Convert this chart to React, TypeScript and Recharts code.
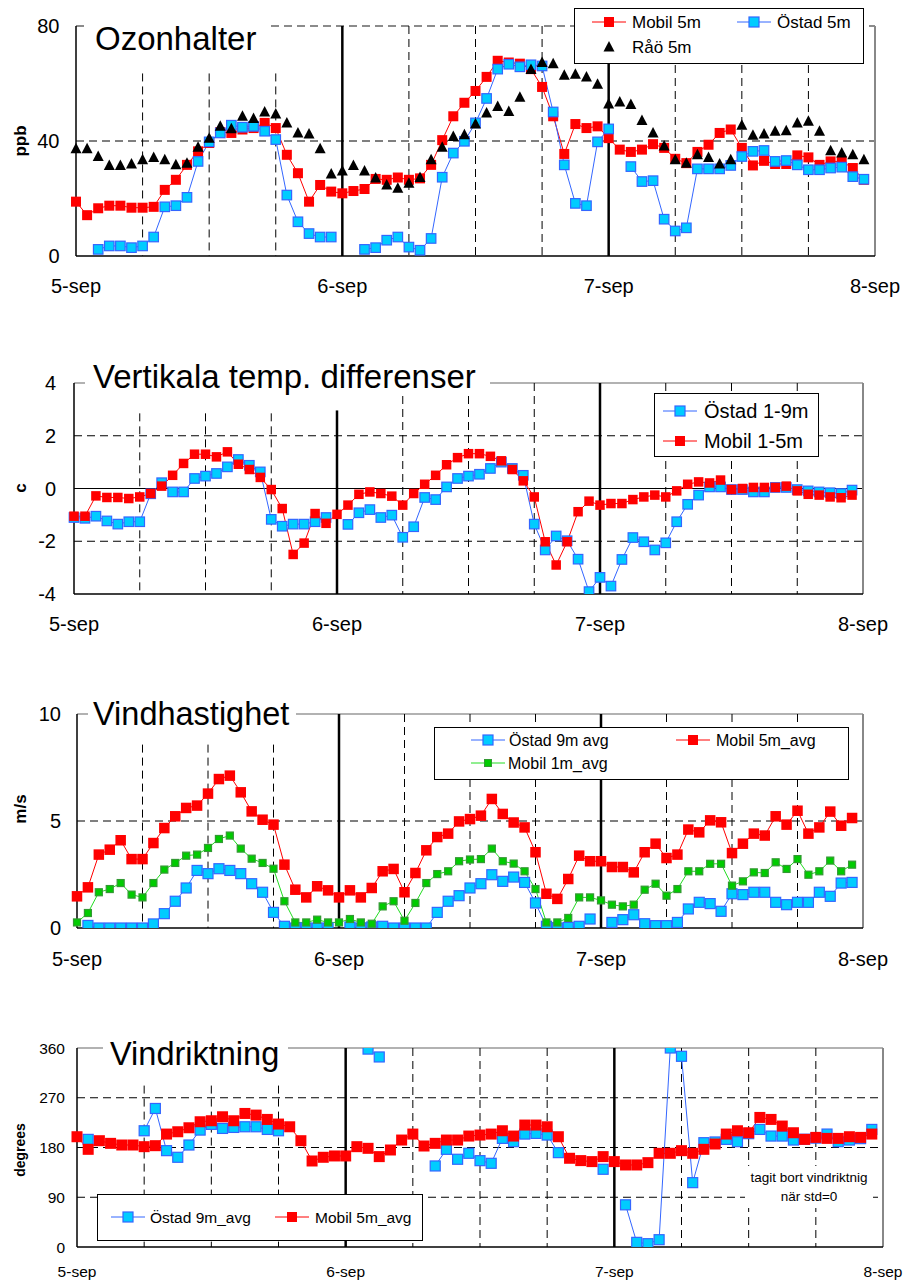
import React from "react";
import { LineChart, Line, XAxis, YAxis, ReferenceLine } from "recharts";

const FONT = "'Liberation Sans', Arial, Helvetica, sans-serif";

type Val = number | null;

// x axis: one point per hour, 3 days
const dayLabels = ["5-sep", "6-sep", "7-sep", "8-sep"];
const dayTicks = [0, 24, 48, 72];
const sixHourLines = [6, 12, 18, 30, 36, 42, 54, 60, 66];
const midnightLines = [24, 48];

// Ozonhalter (ppb)
const ozonMobil5m: Val[] = [
  18.9, 14.2, 16.6, 17.5, 17.5, 16.8, 16.8, 17.1, 23, 26.5,
  31.7, 36.4, 39.3, 43.1, 42.8, 44, 44.5, 46.3, 44.5, 35.2,
  28.8, 18.9, 24.7, 22.4, 21.8, 22.6, 23.3, 26.8, 26.5, 27.3,
  26.5, 27, 31.7, 40.3, 48.6, 53.3, 57.4, 62.3, 67.9, 67.3,
  66.9, 65, 58.8, 48.6, 35.5, 45.9, 44.5, 45.1, 41, 37,
  36.2, 37, 38.9, 37.6, 33.8, 32.3, 36.2, 38.7, 42.8, 44,
  37.6, 31.5, 33.1, 32, 32, 35, 34.3, 31.7, 32.9, 32.9,
  30.6, 26.5,
];
const ozonOstad5m: Val[] = [
  null, null, 2.3, 3.5, 3.5, 2.9, 3.5, 6.6, 17.1, 17.5,
  20.4, 32.9, 39.7, 42.8, 45.5, 44.8, 45.1, 43.4, 40.5, 21.2,
  11.9, 7.8, 6.6, 6.6, null, null, 2.3, 2.9, 5.5, 6.6,
  3.1, 2.0, 6.1, 27.4, 35.8, 39.9, 46.3, 54.8, 65, 66.7,
  65.8, 66.5, 66.1, 50.1, 31.7, 18.3, 17.5, 39.7, 44.2, null,
  31.1, 25.9, 26.2, 12.8, 8.7, 9.8, 30.3, 30.3, 30.3, 31.5,
  34.6, 36.4, 36.7, 32.9, 33.2, 31.7, 30, 30, 30.6, 30.9,
  27.6, 26.7,
];
const ozonRao5m: Val[] = [
  37.3, 37.3, 34.6, 31.5, 31.5, 32, 33.5, 34.3, 33.5, 31.7,
  32.3, 37.8, 41, 45.1, 44.3, 48.6, 47.8, 50.1, 49.4, 46.3,
  42.8, 42.4, 37.3, 28.5, 29.6, 31.5, 29.6, 27.1, 24.7, 23.6,
  25.3, 27.3, 33.5, 37.8, 41.6, 42.2, 45.9, 49.7, 52, 50.3,
  55.2, 64.9, 67.3, 66.9, 62.9, 63.2, 62.3, 59.7, 52.9, 53.6,
  52.7, 47.1, 42.8, 38.3, 33.5, 32.3, 35.2, 34.3, 32, 33.5,
  45.5, 42, 42.4, 43.4, 43.6, 46.3, 46.9, 43.4, 36.6, 35.8,
  35.2, 33.5,
];

// Vertikala temp. differenser (c)
const tempOstad19: Val[] = [
  -1.1, -1.13, -1.05, -1.23, -1.35, -1.26, -1.26, -0.2, 0.22, -0.13,
  -0.13, 0.38, 0.47, 0.57, 0.82, 1.1, 0.88, 0.63, -1.17, -1.43,
  -1.35, -1.35, -1.26, -1.1, null, -1.36, -0.92, -0.8, -1.1, -1.01,
  -1.85, -1.45, -0.34, -0.42, 0.06, 0.38, 0.47, 0.54, 0.76, 1.0,
  0.76, 0.5, -1.35, -2.33, -1.8, -1.98, -2.68, -3.91, -3.37, -3.7,
  -2.69, -1.86, -2.02, -2.33, -2.06, -1.26, -0.6, -0.25, 0.06, 0.06,
  -0.04, -0.04, -0.13, -0.13, 0.04, 0.04, -0.04, -0.09, -0.13, -0.16,
  -0.19, -0.06,
];
const tempMobil15: Val[] = [
  -1.05, -1.05, -0.28, -0.34, -0.34, -0.38, -0.32, -0.19, 0.09, 0.5,
  0.95, 1.3, 1.3, 1.2, 1.39, 0.92, 0.72, 0.42, -0.04, -0.76,
  -2.5, -2.07, -0.95, -1.32, -0.98, -0.63, -0.22, -0.13, -0.19, -0.29,
  -0.63, -0.19, 0.16, 0.5, 0.9, 1.17, 1.32, 1.32, 1.22, 1.05,
  0.72, 0.29, -0.32, -2.02, -2.9, -2.02, -0.88, -0.48, -0.63, -0.57,
  -0.57, -0.42, -0.32, -0.25, -0.32, -0.09, 0.16, 0.25, 0.21, 0.32,
  -0.04, 0, 0.04, 0.04, 0.04, 0.09, -0.09, -0.22, -0.25, -0.32,
  -0.35, -0.25,
];

// Vindhastighet (m/s)
const windOstad9: Val[] = [
  null, 0.12, 0, 0, 0, 0, 0, 0.19, 0.67, 1.25,
  1.87, 2.69, 2.54, 2.77, 2.69, 2.54, 2.07, 1.67, 0.73, 0.08,
  0, 0, 0, 0, null, 0.05, 0, 0.05, 0.08, 0,
  0, 0, 0, 0.73, 1.25, 1.51, 1.87, 2.07, 2.49, 2.18,
  2.38, 2.13, 1.17, 0.08, 0, 0.03, 0.08, 0.42, null, 0.26,
  0.39, 0.62, 0.2, 0.11, 0.11, 0.26, 0.89, 1.2, 1.14, 0.78,
  1.6, 1.56, 1.67, 1.67, 1.2, 1.09, 1.2, 1.2, 1.67, 1.48,
  2.1, 2.13,
];
const windMobil5: Val[] = [
  1.48, 1.9, 3.43, 3.66, 4.1, 3.22, 3.22, 3.97, 4.67, 5.22,
  5.61, 5.72, 6.28, 6.96, 7.12, 6.34, 5.45, 5.06, 4.83, 2.96,
  1.79, 1.43, 1.95, 1.76, 1.43, 1.76, 1.43, 1.87, 2.65, 2.76,
  1.67, 2.57, 3.63, 4.25, 4.41, 4.98, 5.09, 5.25, 6.03, 5.33,
  4.93, 4.7, 3.54, 1.6, 1.36, 2.29, 3.38, 3.12, 3.12, 2.85,
  2.85, 2.6, 3.54, 3.94, 3.27, 3.43, 4.6, 4.47, 5.03, 4.94,
  3.5, 3.94, 4.41, 4.32, 5.22, 4.83, 5.48, 4.41, 4.7, 5.44,
  4.78, 5.14,
];
const windMobil1: Val[] = [
  0.26, 0.7, 1.67, 1.82, 2.1, 1.56, 1.43, 2.1, 2.73, 3.04,
  3.38, 3.43, 3.74, 4.16, 4.32, 3.71, 3.24, 3.04, 2.77, 1.25,
  0.26, 0.26, 0.39, 0.26, 0.26, 0.42, 0.26, 0.2, 1.01, 1.25,
  0.34, 1.17, 2.1, 2.52, 2.65, 3.12, 3.2, 3.22, 3.71, 3.12,
  3.01, 2.65, 1.82, 0.26, 0.26, 0.47, 1.43, 1.43, 1.29, 1.09,
  1.01, 1.09, 1.79, 2.07, 1.51, 1.82, 2.65, 2.65, 3, 3,
  1.98, 2.18, 2.6, 2.57, 3.07, 2.76, 3.22, 2.49, 2.65, 3.15,
  2.65, 2.96,
];

// Vindriktning (degrees)
const dirOstad9: Val[] = [
  null, 194.7, null, null, null, null, 210.3, 250.6, 174.3, 162.3,
  184.5, 211.5, 221.8, 214.5, 216.3, 217.5, 217.5, 212.7, 210.3, null,
  null, null, null, null, null, null, 358, 343.8, null, null,
  null, null, 146.6, 176.7, 158.7, 169.5, 156.2, 151.4, 196.5, 190.5,
  204.3, 205.5, 202.5, 170.7, null, null, null, 140.6, null, 76.3,
  8.4, 6, 13.2, 360, 345, 116.4, 188.7, 190, 194.7, 190.5,
  205, 212.7, 200.7, 200.7, 193.5, 195, 197, 204.3, 190.5, 193.5,
  196, 212.7,
];
const dirMobil5: Val[] = [
  199.5, 176.7, 192.3, 187.5, 184.5, 184.5, 181.5, 183.3, 204.3, 208.5,
  215.7, 226.6, 228.4, 235.6, 228.4, 241.6, 238.6, 230.8, 222.4, 217.5,
  192.3, 155.6, 162.3, 164.7, 164.7, 181.5, 178.5, 163.5, 175.5, 193.5,
  204.3, 182.7, 187.5, 193.5, 193.5, 200.7, 202.5, 204.3, 210.3, 200.7,
  220.6, 220.6, 217.5, 199.5, 160.5, 156.3, 154.5, 163.5, 154.5, 148.4,
  148.4, 152.6, 169.5, 169.5, 174.3, 169.5, 176.7, 186.3, 204.3, 210.3,
  206.7, 234.4, 230.8, 218.8, 206.7, 194.7, 198.3, 196.5, 196.5, 199.5,
  198.3, 204.3,
];

const RED = "#FF0000";
const CYAN = "#00CCFF";
const BLUE = "#3366FF";
const GREEN = "#00CC00";
const GREEN_LINE = "#22DD22";
const GREEN_EDGE = "#339933";

function rowsFrom(cols: Record<string, Val[]>) {
  const keys = Object.keys(cols);
  const rows: Record<string, Val>[] = [];
  for (let i = 0; i < cols[keys[0]].length; i++) {
    const r: Record<string, Val> = { h: i };
    keys.forEach((k) => (r[k] = cols[k][i]));
    rows.push(r);
  }
  return rows;
}

function squareDot(size: number, fill: string, stroke?: string) {
  return (p: any) => {
    const { cx, cy, index, value } = p;
    if (value == null || cx == null || cy == null || Number.isNaN(cy))
      return <g key={`e${index}`} />;
    return (
      <rect
        key={`d${index}`}
        x={cx - size / 2}
        y={cy - size / 2}
        width={size}
        height={size}
        fill={fill}
        stroke={stroke || "none"}
        strokeWidth={stroke ? 1.2 : 0}
      />
    );
  };
}

function triDot(p: any) {
  const { cx, cy, index, value } = p;
  if (value == null || cx == null || cy == null || Number.isNaN(cy))
    return <g key={`e${index}`} />;
  return (
    <polygon
      key={`t${index}`}
      points={`${cx},${cy - 6} ${cx - 5.5},${cy + 4.5} ${cx + 5.5},${cy + 4.5}`}
      fill="#000"
    />
  );
}

type SeriesSpec = { key: string; stroke: string; dot: (p: any) => React.ReactElement };

interface PanelProps {
  box: { left: number; right: number; top: number; bottom: number };
  rows: Record<string, Val>[];
  series: SeriesSpec[];
  yDomain: [number, number];
  yTicks: number[];
  tickFont: number;
  yGap: number;
  xGap: number;
  dashedY: number[];
  solidY?: number[];
  topDashed?: boolean;
  firstDayTop: number;
  midnightTop: number;
}

function Panel(props: PanelProps) {
  const { box, rows, series, yDomain, yTicks, tickFont, yGap, xGap } = props;
  const chartTop = box.top - 20;
  const chartH = box.bottom - chartTop + 50;
  const yw = 60;
  const [y0, y1] = yDomain;
  const tick = { fontSize: tickFont, fill: "#000", fontFamily: FONT };
  return (
    <div style={{ position: "absolute", left: 0, top: chartTop }}>
      <LineChart
        width={904}
        height={chartH}
        data={rows}
        margin={{ top: box.top - chartTop, right: 904 - box.right, bottom: 0, left: box.left - yw }}
      >
        <XAxis
          dataKey="h"
          type="number"
          domain={[0, 72]}
          ticks={dayTicks}
          interval={0}
          tickFormatter={(v: number) => dayLabels[dayTicks.indexOf(v)]}
          height={50}
          tickLine={false}
          tickSize={6}
          tickMargin={xGap}
          axisLine={{ stroke: "#000", strokeWidth: 1.5 }}
          tick={tick}
        />
        <YAxis
          type="number"
          domain={yDomain}
          ticks={yTicks}
          interval={0}
          allowDataOverflow
          width={yw}
          tickLine={false}
          tickSize={6}
          tickMargin={yGap}
          axisLine={{ stroke: "#000", strokeWidth: 1.5 }}
          tick={tick}
        />
        <ReferenceLine
          y={y1}
          stroke={props.topDashed ? "#666" : "#999"}
          strokeWidth={1.5}
          strokeDasharray={props.topDashed ? "8 5" : undefined}
        />
        {props.dashedY.map((v) => (
          <ReferenceLine key={`hy${v}`} y={v} stroke="#000" strokeDasharray="8 5" />
        ))}
        {(props.solidY || []).map((v) => (
          <ReferenceLine key={`sy${v}`} y={v} stroke="#000" strokeWidth={1} />
        ))}
        {sixHourLines.map((x) => (
          <ReferenceLine
            key={`vx${x}`}
            segment={[
              { x, y: x < 24 ? props.firstDayTop : y1 },
              { x, y: y0 },
            ]}
            stroke="#000"
            strokeDasharray="8 5"
          />
        ))}
        {midnightLines.map((x) => (
          <ReferenceLine
            key={`mx${x}`}
            segment={[
              { x, y: x === 24 ? props.midnightTop : y1 },
              { x, y: y0 },
            ]}
            stroke="#000"
            strokeWidth={2.5}
          />
        ))}
        <ReferenceLine x={72} stroke="#888" strokeWidth={2} />
        {series.map((s) => (
          <Line
            key={s.key}
            type="linear"
            dataKey={s.key}
            stroke={s.stroke}
            strokeWidth={1}
            dot={s.dot}
            activeDot={false}
            isAnimationActive={false}
            connectNulls={false}
          />
        ))}
      </LineChart>
    </div>
  );
}

type LegendItem = { mx: number; my: number; tx: number; label: string; kind: "red" | "blue" | "green" | "tri" };

function LegendBox(props: { x: number; y: number; w: number; h: number; fontSize: number; items: LegendItem[] }) {
  const { x, y, w, h, fontSize, items } = props;
  return (
    <div
      style={{
        position: "absolute",
        left: x,
        top: y,
        width: w,
        height: h,
        border: "1px solid #000",
        background: "#fff",
        boxSizing: "border-box",
      }}
    >
      <svg width={w} height={h} style={{ position: "absolute", left: -1, top: -1, overflow: "visible" }}>
        {items.map((it) => {
          const cx = it.mx - x;
          const cy = it.my - y;
          let mark: React.ReactNode = null;
          if (it.kind === "red")
            mark = (
              <>
                <line x1={cx - 17} x2={cx + 17} y1={cy} y2={cy} stroke={RED} />
                <rect x={cx - 5} y={cy - 5} width={10} height={10} fill={RED} />
              </>
            );
          if (it.kind === "blue")
            mark = (
              <>
                <line x1={cx - 17} x2={cx + 17} y1={cy} y2={cy} stroke={BLUE} />
                <rect x={cx - 5} y={cy - 5} width={10} height={10} fill={CYAN} stroke={BLUE} strokeWidth={1.2} />
              </>
            );
          if (it.kind === "green")
            mark = (
              <>
                <line x1={cx - 17} x2={cx + 17} y1={cy} y2={cy} stroke={GREEN_LINE} />
                <rect x={cx - 3.5} y={cy - 3.5} width={7} height={7} fill={GREEN} stroke={GREEN_EDGE} />
              </>
            );
          if (it.kind === "tri")
            mark = <polygon points={`${cx},${cy - 6} ${cx - 5.5},${cy + 4.5} ${cx + 5.5},${cy + 4.5}`} fill="#000" />;
          return (
            <g key={it.label}>
              {mark}
              <text
                x={it.tx - x}
                y={cy}
                dominantBaseline="central"
                fontSize={fontSize}
                fontFamily={FONT}
                fill="#000"
              >
                {it.label}
              </text>
            </g>
          );
        })}
      </svg>
    </div>
  );
}

function Title(props: { x: number; y: number; w: number; size: number; pad: number; text: string }) {
  return (
    <div
      style={{
        position: "absolute",
        left: props.x,
        top: props.y,
        width: props.w,
        paddingLeft: props.pad,
        boxSizing: "border-box",
        background: "#fff",
        fontSize: props.size,
        lineHeight: `${props.size}px`,
        whiteSpace: "nowrap",
        color: "#000",
      }}
    >
      {props.text}
    </div>
  );
}

function AxisLabel(props: { x: number; y: number; size: number; text: string }) {
  return (
    <div
      style={{
        position: "absolute",
        left: props.x,
        top: props.y,
        transform: "translate(-50%, -50%) rotate(-90deg)",
        fontWeight: "bold",
        fontSize: props.size,
        lineHeight: 1,
        whiteSpace: "nowrap",
      }}
    >
      {props.text}
    </div>
  );
}

const ozonRows = rowsFrom({ mobil: ozonMobil5m, ostad: ozonOstad5m, rao: ozonRao5m });
const tempRows = rowsFrom({ ostad: tempOstad19, mobil: tempMobil15 });
const windRows = rowsFrom({ ostad: windOstad9, mobil1: windMobil1, mobil5: windMobil5 });
const dirRows = rowsFrom({ ostad: dirOstad9, mobil: dirMobil5 });

export default function App() {
  return (
    <div
      style={{
        position: "absolute",
        left: 0,
        top: 0,
        width: 904,
        height: 1283,
        background: "#fff",
        fontFamily: FONT,
        overflow: "hidden",
      }}
    >
      <Panel
        box={{ left: 76, right: 875, top: 26, bottom: 256 }}
        rows={ozonRows}
        series={[
          { key: "mobil", stroke: RED, dot: squareDot(10, RED) },
          { key: "ostad", stroke: BLUE, dot: squareDot(9.5, CYAN, BLUE) },
          { key: "rao", stroke: "none", dot: triDot },
        ]}
        yDomain={[0, 80]}
        yTicks={[0, 40, 80]}
        tickFont={20}
        yGap={10.5}
        xGap={17}
        dashedY={[40]}
        topDashed
        firstDayTop={63.5}
        midnightTop={80}
      />
      <Panel
        box={{ left: 74, right: 863, top: 383, bottom: 594 }}
        rows={tempRows}
        series={[
          { key: "ostad", stroke: BLUE, dot: squareDot(9.5, CYAN, BLUE) },
          { key: "mobil", stroke: RED, dot: squareDot(9.5, RED) },
        ]}
        yDomain={[-4, 4]}
        yTicks={[-4, -2, 0, 2, 4]}
        tickFont={20}
        yGap={12}
        xGap={17}
        dashedY={[-2, 2]}
        solidY={[0]}
        firstDayTop={2.85}
        midnightTop={2.96}
      />
      <Panel
        box={{ left: 77, right: 863, top: 714, bottom: 928 }}
        rows={windRows}
        series={[
          { key: "ostad", stroke: BLUE, dot: squareDot(10, CYAN, BLUE) },
          { key: "mobil1", stroke: GREEN_LINE, dot: squareDot(7, GREEN, GREEN_EDGE) },
          { key: "mobil5", stroke: RED, dot: squareDot(10.5, RED) },
        ]}
        yDomain={[0, 10]}
        yTicks={[0, 5, 10]}
        tickFont={20}
        yGap={10}
        xGap={18}
        dashedY={[5]}
        firstDayTop={8.57}
        midnightTop={10}
      />
      <Panel
        box={{ left: 77, right: 883, top: 1048, bottom: 1247 }}
        rows={dirRows}
        series={[
          { key: "ostad", stroke: BLUE, dot: squareDot(10, CYAN, BLUE) },
          { key: "mobil", stroke: RED, dot: squareDot(11, RED) },
        ]}
        yDomain={[0, 360]}
        yTicks={[0, 90, 180, 270, 360]}
        tickFont={15.5}
        yGap={6}
        xGap={13}
        dashedY={[90, 180, 270]}
        firstDayTop={292}
        midnightTop={360}
      />

      <Title x={86} y={22} w={180} size={33} pad={9} text="Ozonhalter" />
      <Title x={85} y={360} w={405} size={33} pad={8} text="Vertikala temp. differenser" />
      <Title x={88} y={697.5} w={208} size={32.5} pad={5} text="Vindhastighet" />
      <Title x={103} y={1037.5} w={185} size={32.5} pad={7} text="Vindriktning" />

      <AxisLabel x={20} y={141} size={17} text="ppb" />
      <AxisLabel x={20} y={488} size={17} text="c" />
      <AxisLabel x={20} y={809} size={17} text="m/s" />
      <AxisLabel x={20} y={1150} size={14} text="degrees" />

      <LegendBox
        x={574}
        y={8}
        w={290}
        h={56}
        fontSize={17}
        items={[
          { mx: 609, my: 22, tx: 632, label: "Mobil 5m", kind: "red" },
          { mx: 754, my: 22, tx: 777, label: "Östad 5m", kind: "blue" },
          { mx: 609, my: 47, tx: 632, label: "Råö 5m", kind: "tri" },
        ]}
      />
      <LegendBox
        x={654}
        y={393}
        w={165}
        h={64}
        fontSize={20}
        items={[
          { mx: 680, my: 411, tx: 704, label: "Östad 1-9m", kind: "blue" },
          { mx: 680, my: 441, tx: 704, label: "Mobil 1-5m", kind: "red" },
        ]}
      />
      <LegendBox
        x={434}
        y={727}
        w={415}
        h={53}
        fontSize={16}
        items={[
          { mx: 488, my: 740, tx: 509, label: "Östad 9m avg", kind: "blue" },
          { mx: 693, my: 740, tx: 716, label: "Mobil 5m_avg", kind: "red" },
          { mx: 488, my: 763, tx: 508, label: "Mobil 1m_avg", kind: "green" },
        ]}
      />
      <LegendBox
        x={97}
        y={1194}
        w={326}
        h={47}
        fontSize={15.5}
        items={[
          { mx: 128, my: 1217, tx: 150, label: "Östad 9m_avg", kind: "blue" },
          { mx: 292, my: 1217, tx: 315, label: "Mobil 5m_avg", kind: "red" },
        ]}
      />

      <div
        style={{
          position: "absolute",
          left: 745,
          top: 1166,
          width: 128,
          paddingTop: 2,
          paddingBottom: 2,
          textAlign: "center",
          fontSize: 13.5,
          lineHeight: "19px",
          color: "#000",
          background: "#fff",
        }}
      >
        tagit bort vindriktnig
        <br />
        när std=0
      </div>
    </div>
  );
}
